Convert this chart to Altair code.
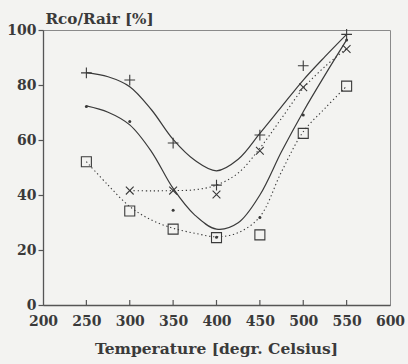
import altair as alt
import pandas as pd

# measured markers
temps = [250, 300, 350, 400, 450, 500, 550]
plus_vals = [84.4, 81.8, 58.9, 43.6, 61.8, 87.0, 98.4]
dot_vals = [72.2, 66.7, 34.5, 24.6, 31.8, 69.1, 96.4]
cross_temps = [300, 350, 400, 450, 500, 550]
cross_vals = [41.6, 41.6, 40.2, 56.1, 79.2, 93.1]
square_vals = [52.1, 34.2, 27.6, 24.5, 25.5, 62.4, 79.6]

# fitted curves, every 25 degrees
curve_temps = [250, 275, 300, 325, 350, 375, 400, 425, 450, 475, 500, 525, 550]
plus_curve = [84.5, 83.0, 79.4, 71.0, 60.2, 52.6, 48.8, 53.0, 62.4, 72.1, 81.8, 90.3, 98.4]
dot_curve = [72.4, 70.1, 65.5, 55.8, 42.4, 32.7, 27.6, 29.9, 40.0, 55.8, 70.3, 83.6, 96.4]
cross_curve_temps = [300, 325, 350, 375, 400, 425, 450, 475, 500, 525, 550]
cross_curve = [41.6, 41.5, 41.6, 41.9, 43.6, 48.0, 57.0, 67.9, 78.8, 86.7, 93.3]
square_curve = [52.1, 43.6, 35.8, 30.9, 27.9, 26.1, 24.8, 26.3, 32.1, 48.5, 63.0, 71.5, 79.6]

x_ticks = [250, 300, 350, 400, 450, 500, 550]

pts_rows = []
for t, v in zip(temps, plus_vals):
    pts_rows.append({"series": "plus", "t": t, "v": v})
for t, v in zip(temps, dot_vals):
    pts_rows.append({"series": "dot", "t": t, "v": v})
for t, v in zip(cross_temps, cross_vals):
    pts_rows.append({"series": "cross", "t": t, "v": v})
for t, v in zip(temps, square_vals):
    pts_rows.append({"series": "square", "t": t, "v": v})
pts_df = pd.DataFrame(pts_rows)

cur_rows = []
for t, v in zip(curve_temps, plus_curve):
    cur_rows.append({"series": "plus", "t": t, "v": v})
for t, v in zip(curve_temps, dot_curve):
    cur_rows.append({"series": "dot", "t": t, "v": v})
for t, v in zip(cross_curve_temps, cross_curve):
    cur_rows.append({"series": "cross", "t": t, "v": v})
for t, v in zip(curve_temps, square_curve):
    cur_rows.append({"series": "square", "t": t, "v": v})
cur_df = pd.DataFrame(cur_rows)
ticks_df = pd.DataFrame({"t": x_ticks})

FONT = "DejaVu Serif"
INK = "#3a3a3a"

xs = alt.Scale(domain=[200, 600], nice=False)
ys = alt.Scale(domain=[0, 100], nice=False)

x_axis = alt.Axis(
    values=[200, 250, 300, 350, 400, 450, 500, 550, 600],
    title="Temperature [degr. Celsius]",
    ticks=False, grid=False, labelPadding=9, labelOverlap=False, labelFlush=False,
    titleX=173, titleY=48, titleAlign="center", titleBaseline="alphabetic",
    titleFontSize=15.5,
)
y_axis = alt.Axis(
    values=[0, 20, 40, 60, 80, 100],
    title="Rco/Rair [%]", titleAngle=0, titleAlign="left",
    titleX=2, titleY=-7, titleBaseline="alphabetic",
    tickSize=5, labelPadding=2, grid=False, labelOverlap=False, labelFlush=False,
    titleFontSize=15.2,
)

def curve(series, dash):
    if dash:
        m = alt.Chart(cur_df).mark_line(color=INK, strokeWidth=1.1, strokeDash=dash, interpolate="catmull-rom")
    else:
        m = alt.Chart(cur_df).mark_line(color=INK, strokeWidth=1.2, interpolate="catmull-rom")
    return m.transform_filter(alt.datum.series == series).encode(
        x=alt.X("t:Q", scale=xs, axis=x_axis),
        y=alt.Y("v:Q", scale=ys, axis=y_axis),
        order="t:Q",
    )

c_plus = curve("plus", None)
c_dot = curve("dot", None)
c_cross = curve("cross", [1.3, 2.7])
c_square = curve("square", [1.3, 2.7])

shape_scale = alt.Scale(
    domain=["plus", "cross", "square"],
    range=["M-1,0L1,0M0,-1L0,1", "M-0.75,-0.75L0.75,0.75M-0.75,0.75L0.75,-0.75", "square"],
)
size_scale = alt.Scale(domain=["plus", "cross", "square"], range=[115, 100, 40])

pts = alt.Chart(pts_df).transform_filter(alt.datum.series != "dot").mark_point(
    filled=False, color=INK, strokeWidth=1.1, opacity=1
).encode(
    x=alt.X("t:Q", scale=xs),
    y=alt.Y("v:Q", scale=ys),
    shape=alt.Shape("series:N", scale=shape_scale, legend=None),
    size=alt.Size("series:N", scale=size_scale, legend=None),
)

dots = alt.Chart(pts_df).transform_filter(alt.datum.series == "dot").mark_circle(
    color=INK, size=9, opacity=1
).encode(
    x=alt.X("t:Q", scale=xs),
    y=alt.Y("v:Q", scale=ys),
)

inner_ticks = alt.Chart(ticks_df).mark_rule(color="#555", strokeWidth=1.2).encode(
    x=alt.X("t:Q", scale=xs),
    y=alt.value(275),
    y2=alt.value(270),
)

chart = alt.layer(c_plus, c_dot, c_cross, c_square, pts, dots, inner_ticks).properties(
    width=347, height=275,
    autosize=alt.AutoSizeParams(type="none"),
    padding={"left": 43, "top": 30, "right": 18, "bottom": 59},
    background="#f3f3f1",
).configure_view(
    stroke="#8a8a8a", strokeWidth=1,
).configure_axis(
    domainColor="#555", domainWidth=1.3, tickColor="#555", tickWidth=1.2,
    labelFont=FONT, labelFontSize=14, labelFontWeight="bold", labelColor=INK,
    titleFont=FONT, titleFontWeight="bold", titleColor=INK,
)

chart.save("out.html", embed_options={"renderer": "svg", "actions": False})
